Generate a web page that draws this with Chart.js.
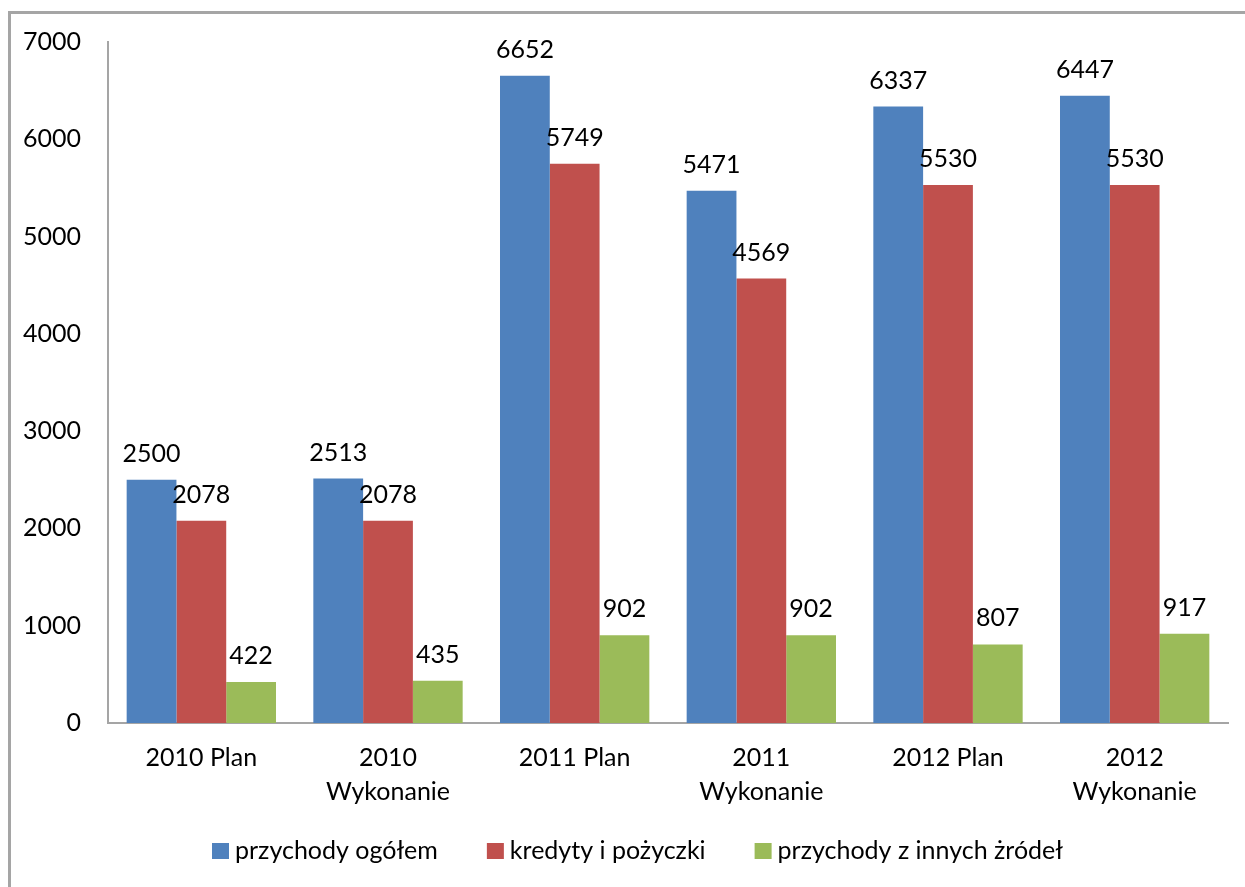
<!DOCTYPE html>
<html>
<head>
<meta charset="utf-8">
<script src="https://cdn.jsdelivr.net/npm/chart.js@4"></script>
<style>
  html, body { margin: 0; padding: 0; background: #fff; }
  #wrap { position: relative; width: 1245px; height: 887px; overflow: hidden; }
  #frame { position: absolute; left: 8px; top: 11px; width: 1400px; height: 1000px; border: 3px solid #a5a5a5; box-sizing: border-box; }
  #chart { position: absolute; left: 0; top: 0; }
</style>
</head>
<body>
<div id="wrap">
  <div id="frame"></div>
  <canvas id="chart" width="1245" height="887"></canvas>
</div>
<script>
/* ===== Data ===== */
const categories = [
  ["2010 Plan"], ["2010", "Wykonanie"],
  ["2011 Plan"], ["2011", "Wykonanie"],
  ["2012 Plan"], ["2012", "Wykonanie"],
];
const seriesNames = ["przychody ogółem", "kredyty i pożyczki", "przychody z innych żródeł"];
const totalIncome = [2500, 2513, 6652, 5471, 6337, 6447];
const loans = [2078, 2078, 5749, 4569, 5530, 5530];
const otherIncome = [422, 435, 902, 902, 807, 917];
const yTicks = [0, 1000, 2000, 3000, 4000, 5000, 6000, 7000];

const colors = ["#4f81bd", "#c0504d", "#9bbb59"];
const FONT = "Lato, 'Open Sans', sans-serif";
const FONT_SIZE = 25;

/* ===== Value labels above bars ===== */
const valueLabels = {
  id: "valueLabels",
  afterDatasetsDraw(chart) {
    const ctx = chart.ctx;
    ctx.save();
    ctx.font = `${FONT_SIZE}px ${FONT}`;
    ctx.fillStyle = "#000";
    ctx.textAlign = "center";
    ctx.textBaseline = "alphabetic";
    chart.data.datasets.forEach((ds, i) => {
      chart.getDatasetMeta(i).data.forEach((bar, j) => {
        ctx.fillText(String(ds.data[j]), bar.x, bar.y - 18);
      });
    });
    ctx.restore();
  },
};

/* ===== Bottom legend (tight box/text gap like the original) ===== */
const bottomLegend = {
  id: "bottomLegend",
  afterDraw(chart) {
    const ctx = chart.ctx;
    const box = 17, gap = 6, spacing = 49, cy = 851, shift = 15;
    ctx.save();
    ctx.font = `${FONT_SIZE}px ${FONT}`;
    ctx.textBaseline = "middle";
    ctx.textAlign = "left";
    const items = chart.data.datasets.map((ds) => ({
      text: ds.label, color: ds.backgroundColor, w: ctx.measureText(ds.label).width,
    }));
    const total = items.reduce((s, it) => s + box + gap + it.w, 0) + spacing * (items.length - 1);
    let x = (chart.width - total) / 2 + shift;
    items.forEach((it) => {
      ctx.fillStyle = it.color;
      ctx.fillRect(x, cy - 8, box, 16);
      ctx.fillStyle = "#000";
      ctx.fillText(it.text, x + box + gap, cy);
      x += box + gap + it.w + spacing;
    });
    ctx.restore();
  },
};

Chart.defaults.font.family = FONT;
Chart.defaults.font.size = FONT_SIZE;
Chart.defaults.color = "#000";

new Chart(document.getElementById("chart"), {
  type: "bar",
  data: {
    labels: categories,
    datasets: [totalIncome, loans, otherIncome].map((data, i) => ({
      label: seriesNames[i],
      data,
      backgroundColor: colors[i],
      borderWidth: 0,
      categoryPercentage: 0.8,
      barPercentage: 1,
    })),
  },
  options: {
    responsive: false,
    animation: false,
    devicePixelRatio: 1,
    layout: { padding: { top: 41, right: 17, bottom: 74, left: 0 } },
    plugins: {
      tooltip: { enabled: false },
      legend: { display: false },
    },
    scales: {
      x: {
        grid: { display: false, drawTicks: false },
        border: { display: true, color: "#a5a5a5", width: 2 },
        ticks: { padding: 18, maxRotation: 0, font: { size: FONT_SIZE, lineHeight: 1.36 } },
        afterFit(scale) { scale.height = 90; },
      },
      y: {
        min: 0,
        max: 7000,
        afterBuildTicks(scale) { scale.ticks = yTicks.map((v) => ({ value: v })); },
        grid: { display: false, drawTicks: false },
        border: { display: true, color: "#a5a5a5", width: 2 },
        ticks: { padding: 27, callback: (v) => String(v) },
        afterFit(scale) { scale.width = 108; },
      },
    },
  },
  plugins: [valueLabels, bottomLegend],
});
</script>
</body>
</html>
